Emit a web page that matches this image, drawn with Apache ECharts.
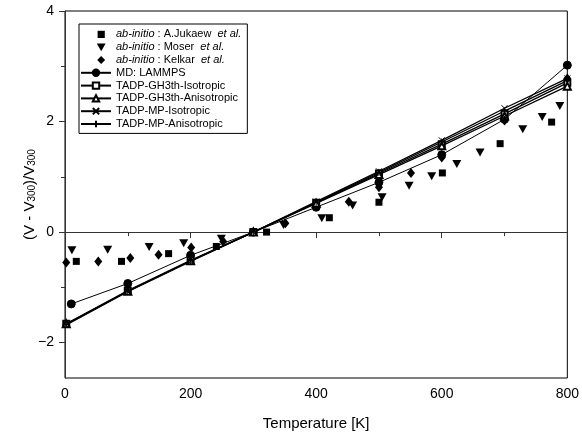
<!DOCTYPE html>
<html><head><meta charset="utf-8">
<script src="https://cdn.jsdelivr.net/npm/echarts@6/dist/echarts.min.js"></script>
<style>html,body{margin:0;padding:0;background:#fff}#c{width:582px;height:437px}</style>
</head><body><div id="c"></div>
<script>
// ---- data ----
var jukaewT = [18, 90, 165, 241, 321, 421, 500, 601, 693, 775];
var jukaewV = [-0.53, -0.53, -0.39, -0.26, 0.0, 0.26, 0.54, 1.07, 1.60, 1.99];
var moserT = [11, 68, 134, 189, 249, 348, 409, 458, 505, 548, 584, 624, 661, 729, 760, 788];
var moserV = [-0.33, -0.32, -0.27, -0.20, -0.12, 0.13, 0.25, 0.48, 0.63, 0.84, 1.01, 1.23, 1.44, 1.86, 2.08, 2.28];
var kelkarT = [2, 53, 104, 149, 201, 252, 351, 452, 500, 551, 600, 700, 800];
var kelkarV = [-0.55, -0.53, -0.47, -0.41, -0.28, -0.17, 0.16, 0.55, 0.81, 1.07, 1.35, 2.02, 2.78];
var mdT = [10, 100, 200, 300, 400, 500, 600, 700, 800];
var mdV = [-1.30, -0.93, -0.42, 0, 0.45, 0.90, 1.40, 2.04, 3.02];
var tadpT = [2, 100, 200, 300, 400, 500, 600, 700, 800];
var gh3IsoV = [-1.66, -1.06, -0.51, 0, 0.53, 1.06, 1.59, 2.14, 2.70];
var gh3AnisoV = [-1.66, -1.07, -0.52, 0, 0.52, 1.04, 1.56, 2.10, 2.64];
var mpIsoV = [-1.68, -1.08, -0.53, 0, 0.55, 1.10, 1.66, 2.24, 2.78];
var mpAnisoV = [-1.67, -1.07, -0.52, 0, 0.54, 1.08, 1.63, 2.19, 2.74];
var xLabelValues = [0, 200, 400, 600, 800];
var yLabelValues = [-2, 0, 2, 4];
var yMinorValues = [-1, 1, 3];
var names = ['ab-initio: A.Jukaew et al.', 'ab-initio: Moser et al.', 'ab-initio: Kelkar et al.',
  'MD: LAMMPS', 'TADP-GH3th-Isotropic', 'TADP-GH3th-Anisotropic', 'TADP-MP-Isotropic', 'TADP-MP-Anisotropic'];

function zip(a, b) { return a.map(function (v, i) { return [v, b[i]]; }); }
var FONT = '"Liberation Sans", Arial, sans-serif';
var BLACK = '#000';
var xPath = 'path://M0,0L10,10M10,0L0,10';
var plusPath = 'path://M5,0L5,10M0,5L10,5';
// legend icons for marker-only series, drawn in a 30x10 icon box
var BOX = 'M0,-1M30,-1M30,9M0,9';
var iconSquare = 'path://' + BOX + 'M17,-0.5L26,-0.5L26,8.5L17,8.5Z';
var iconTri = 'path://' + BOX + 'M16,-0.5L27,-0.5L21.5,9Z';
var iconDiamond = 'path://' + BOX + 'M21.5,-1L26.5,4L21.5,9L16.5,4Z';

function lineSeries(name, xs, ys, symbol, size, width) {
  return {
    name: name, type: 'line', data: zip(xs, ys), symbol: symbol, symbolSize: size,
    lineStyle: { color: BLACK, width: width },
    itemStyle: { color: BLACK, borderColor: BLACK, borderWidth: 1, opacity: 1 },
    emphasis: { disabled: true }, animation: false, z: 3
  };
}

var chart = echarts.init(document.getElementById('c'), null, { renderer: 'canvas' });
chart.setOption({
  backgroundColor: '#fff',
  animation: false,
  grid: { left: 65, right: 11, top: 11, bottom: 59, show: true, borderColor: BLACK, borderWidth: 1, backgroundColor: 'transparent' },
  xAxis: {
    type: 'value', min: 0, max: 800, interval: 200,
    name: 'Temperature [K]', nameLocation: 'middle', nameGap: 38, nameMoveOverlap: false,
    nameTextStyle: { fontFamily: FONT, fontSize: 15, color: BLACK },
    axisLine: { lineStyle: { color: '#333', width: 1 } },
    axisTick: { show: true, length: 6, lineStyle: { color: '#333' } },
    minorTick: { show: true, splitNumber: 2, length: 4, lineStyle: { color: '#333' } },
    axisLabel: { fontFamily: FONT, fontSize: 14, color: BLACK, margin: 9 },
    splitLine: { show: false }
  },
  yAxis: [{
    type: 'value', min: -2.64, max: 4,
    name: '(V - V{s|300})/V{s|300}', nameLocation: 'middle', nameGap: 28, nameMoveOverlap: false,
    nameTextStyle: { fontFamily: FONT, fontSize: 15, color: BLACK,
      rich: { s: { fontFamily: FONT, fontSize: 10, color: BLACK, padding: [0, 0, -5, 0] } } },
    axisLine: { show: true, lineStyle: { color: '#333', width: 1 } },
    axisTick: { show: true, length: 6, customValues: yLabelValues, lineStyle: { color: '#333' } },
    axisLabel: { fontFamily: FONT, fontSize: 14, color: BLACK, margin: 11, customValues: yLabelValues,
      formatter: function (v) { return String(v).replace('-', '\u2212'); } },
    splitLine: { show: false }
  }, {
    type: 'value', min: -2.64, max: 4, position: 'left',
    axisLine: { show: false },
    axisTick: { show: true, length: 4, customValues: yMinorValues, lineStyle: { color: '#333' } },
    axisLabel: { show: false },
    splitLine: { show: false }
  }],
  legend: {
    orient: 'vertical', left: 79, top: 24,
    borderColor: BLACK, borderWidth: 1, padding: [4, 6, 3, 1],
    itemWidth: 30, itemHeight: 8, itemGap: 0,
    selectedMode: false,
    data: [
      { name: names[0], icon: iconSquare },
      { name: names[1], icon: iconTri },
      { name: names[2], icon: iconDiamond },
      names[3], names[4], names[5], names[6], names[7]
    ],
    textStyle: { fontFamily: FONT, fontSize: 11, color: BLACK, lineHeight: 12.8,
      rich: { i: { fontFamily: FONT, fontSize: 11, fontStyle: 'italic', color: BLACK, lineHeight: 12.8 },
              n: { fontFamily: FONT, fontSize: 11, color: BLACK, lineHeight: 12.8 } } },
    formatter: function (name) {
      var m = name.match(/^ab-initio: (.*) et al\.$/);
      if (m) return '{i|ab-initio}{n| : ' + m[1] + '  }{i|et al.}';
      return name;
    }
  },
  series: [
    { name: names[0], type: 'scatter', data: zip(jukaewT, jukaewV), symbol: 'rect', symbolSize: 7,
      itemStyle: { color: BLACK, opacity: 1 }, emphasis: { disabled: true }, z: 4 },
    { name: names[1], type: 'scatter', data: zip(moserT, moserV), symbol: 'triangle', symbolRotate: 180, symbolSize: [9, 8],
      itemStyle: { color: BLACK, opacity: 1 }, emphasis: { disabled: true }, z: 4 },
    { name: names[2], type: 'scatter', data: zip(kelkarT, kelkarV), symbol: 'diamond', symbolSize: [8, 10],
      itemStyle: { color: BLACK, opacity: 1 }, emphasis: { disabled: true }, z: 4 },
    lineSeries(names[3], mdT, mdV, 'circle', 8, 1),
    lineSeries(names[4], tadpT, gh3IsoV, 'emptyRect', 6, 1.3),
    lineSeries(names[5], tadpT, gh3AnisoV, 'emptyTriangle', 7, 1.3),
    lineSeries(names[6], tadpT, mpIsoV, xPath, 6, 1.3),
    lineSeries(names[7], tadpT, mpAnisoV, plusPath, 7, 1.3)
  ]
});
</script></body></html>
